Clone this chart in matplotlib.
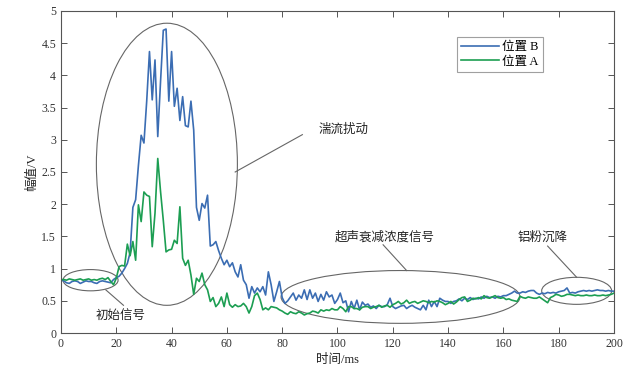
import matplotlib

matplotlib.use("Agg")
import matplotlib.pyplot as plt
import numpy as np
from matplotlib.patches import Ellipse

plt.rcParams["font.family"] = ["Liberation Serif", "Noto Sans CJK SC"]

# time axis, 1 ms sampling
time_ms = np.arange(0, 201)

# amplitude at position B (blue)
pos_b = [
    0.82, 0.81, 0.78, 0.77, 0.80, 0.81, 0.80, 0.77, 0.79, 0.81,
    0.80, 0.80, 0.78, 0.77, 0.80, 0.81, 0.80, 0.79, 0.78, 0.83,
    0.86, 0.88, 0.93, 1.00, 1.08, 1.25, 1.95, 2.07, 2.60, 3.07,
    2.95, 3.60, 4.37, 3.62, 4.24, 3.05, 3.90, 4.70, 4.72, 3.60,
    4.37, 3.52, 3.80, 3.30, 3.67, 3.22, 3.20, 3.60, 3.15, 1.95,
    1.75, 2.01, 1.94, 2.14, 1.35, 1.37, 1.42, 1.28, 1.16, 1.06,
    1.13, 1.03, 1.09, 0.95, 0.87, 1.06, 0.82, 0.75, 0.54, 0.72,
    0.62, 0.70, 0.64, 0.72, 0.59, 0.95, 0.75, 0.49, 0.64, 0.80,
    0.55, 0.46, 0.50, 0.56, 0.62, 0.51, 0.59, 0.54, 0.67, 0.52,
    0.67, 0.54, 0.62, 0.49, 0.60, 0.51, 0.64, 0.56, 0.59, 0.46,
    0.52, 0.62, 0.47, 0.50, 0.33, 0.49, 0.38, 0.51, 0.36, 0.48,
    0.43, 0.45, 0.40, 0.42, 0.38, 0.43, 0.41, 0.41, 0.44, 0.54,
    0.41, 0.38, 0.40, 0.42, 0.43, 0.38, 0.41, 0.43, 0.40, 0.38,
    0.36, 0.43, 0.36, 0.51, 0.41, 0.49, 0.41, 0.54, 0.51, 0.49,
    0.49, 0.46, 0.49, 0.50, 0.53, 0.50, 0.54, 0.52, 0.55, 0.52,
    0.54, 0.53, 0.56, 0.54, 0.57, 0.55, 0.56, 0.54, 0.57, 0.56,
    0.58, 0.58, 0.60, 0.62, 0.65, 0.62, 0.62, 0.64, 0.63, 0.65,
    0.66, 0.66, 0.62, 0.60, 0.62, 0.61, 0.63, 0.62, 0.63, 0.62,
    0.64, 0.65, 0.66, 0.70, 0.62, 0.63, 0.62, 0.64, 0.65, 0.66,
    0.65, 0.66, 0.65, 0.66, 0.67, 0.66, 0.66, 0.65, 0.66, 0.65,
    0.65,
]

# amplitude at position A (green)
pos_a = [
    0.83, 0.83, 0.82, 0.84, 0.83, 0.82, 0.83, 0.84, 0.82, 0.83,
    0.84, 0.82, 0.83, 0.82, 0.84, 0.85, 0.83, 0.86, 0.80, 0.75,
    0.85, 1.03, 1.05, 1.04, 1.38, 1.20, 1.42, 1.13, 1.99, 1.73,
    2.19, 2.14, 2.12, 1.34, 1.86, 2.71, 2.20, 1.75, 1.26, 1.29,
    1.30, 1.44, 1.39, 1.96, 1.16, 1.05, 1.13, 0.90, 0.60, 0.85,
    0.80, 0.93, 0.75, 0.67, 0.49, 0.55, 0.41, 0.46, 0.56, 0.41,
    0.62, 0.44, 0.40, 0.44, 0.41, 0.42, 0.46, 0.41, 0.31, 0.41,
    0.58, 0.62, 0.52, 0.36, 0.39, 0.36, 0.41, 0.40, 0.39, 0.36,
    0.34, 0.31, 0.29, 0.33, 0.31, 0.30, 0.33, 0.31, 0.28, 0.30,
    0.31, 0.34, 0.33, 0.31, 0.36, 0.34, 0.36, 0.35, 0.38, 0.36,
    0.36, 0.41, 0.38, 0.33, 0.41, 0.41, 0.38, 0.38, 0.36, 0.40,
    0.41, 0.41, 0.38, 0.40, 0.41, 0.43, 0.40, 0.42, 0.43, 0.40,
    0.44, 0.46, 0.49, 0.45, 0.47, 0.51, 0.46, 0.48, 0.49, 0.46,
    0.48, 0.50, 0.49, 0.47, 0.49, 0.48, 0.50, 0.49, 0.47, 0.44,
    0.46, 0.49, 0.45, 0.48, 0.52, 0.55, 0.56, 0.49, 0.51, 0.54,
    0.53, 0.55, 0.53, 0.58, 0.55, 0.54, 0.56, 0.58, 0.55, 0.54,
    0.55, 0.52, 0.53, 0.51, 0.50, 0.49, 0.57, 0.55, 0.54, 0.56,
    0.55, 0.54, 0.54, 0.56, 0.53, 0.50, 0.47, 0.55, 0.57, 0.60,
    0.59, 0.57, 0.58, 0.60, 0.60, 0.59, 0.58, 0.59, 0.58, 0.58,
    0.59, 0.58, 0.58, 0.59, 0.58, 0.58, 0.59, 0.58, 0.59, 0.60,
    0.62,
]

x_ticks = list(range(0, 201, 20))
y_ticks = [0, 0.5, 1, 1.5, 2, 2.5, 3, 3.5, 4, 4.5, 5]
y_tick_labels = ["0", "0.5", "1", "1.5", "2", "2.5", "3", "3.5", "4", "4.5", "5"]

# annotation ellipses: (label, centre t, centre V, width ms, height V, text pos, leader start)
notes = [
    ("湍流扰动", 38.3, 2.62, 51.0, 4.38, (93.0, 3.15), (63.0, 2.50)),
    ("初始信号", 10.7, 0.82, 19.9, 0.33, (21.6, 0.27), (16.2, 0.67)),
    ("超声衰减浓度信号", 122.8, 0.56, 86.4, 0.82, (117.2, 1.48), (125.0, 0.97)),
    ("铝粉沉降", 186.5, 0.655, 25.3, 0.42, (174.0, 1.48), (186.5, 0.865)),
]
leader_end = [(87.3, 3.08), (22.6, 0.43), (116.5, 1.37), (176.0, 1.35)]

blue = "#3b6db3"
green = "#1c9e52"
frame = "#555555"

fig = plt.figure(figsize=(6.44, 3.71), dpi=100)
ax = fig.add_axes([0.0947, 0.1024, 0.8587, 0.868])

ax.plot(time_ms, pos_b, color=blue, lw=1.2, label="位置 B")
ax.plot(time_ms, pos_a, color=green, lw=1.2, label="位置 A")

for (label, cx, cy, w, h, tpos, start), end in zip(notes, leader_end):
    ax.add_patch(Ellipse((cx, cy), w, h, fill=False, edgecolor="#666666", lw=0.8))
    ax.plot([start[0], end[0]], [start[1], end[1]], color="#666666", lw=0.8)
    ax.text(tpos[0], tpos[1], label, fontsize=9, ha="left" if label == "湍流扰动" else "center",
            va="center", color="#222222")

ax.set_xlim(0, 200)
ax.set_ylim(0, 5)
ax.set_xticks(x_ticks)
ax.set_yticks(y_ticks)
ax.set_yticklabels(y_tick_labels)
ax.tick_params(direction="in", top=True, right=True, length=4, width=0.7,
               labelsize=8.5, colors=frame, labelcolor="#333333")
for sp in ax.spines.values():
    sp.set_color(frame)
    sp.set_linewidth(0.8)

ax.set_xlabel("时间/ms", fontsize=9, color="#222222", labelpad=3)
ax.set_ylabel("幅值/V", fontsize=9, color="#222222", labelpad=2)

leg = ax.legend(loc="upper right", bbox_to_anchor=(0.872, 0.92), borderaxespad=0,
                fontsize=9, frameon=True, fancybox=False, handlelength=3.0,
                borderpad=0.35, labelspacing=0.2, handletextpad=0.3)
leg.get_frame().set_edgecolor("#888888")
leg.get_frame().set_linewidth(0.8)

fig.savefig("out.png", dpi=100)
